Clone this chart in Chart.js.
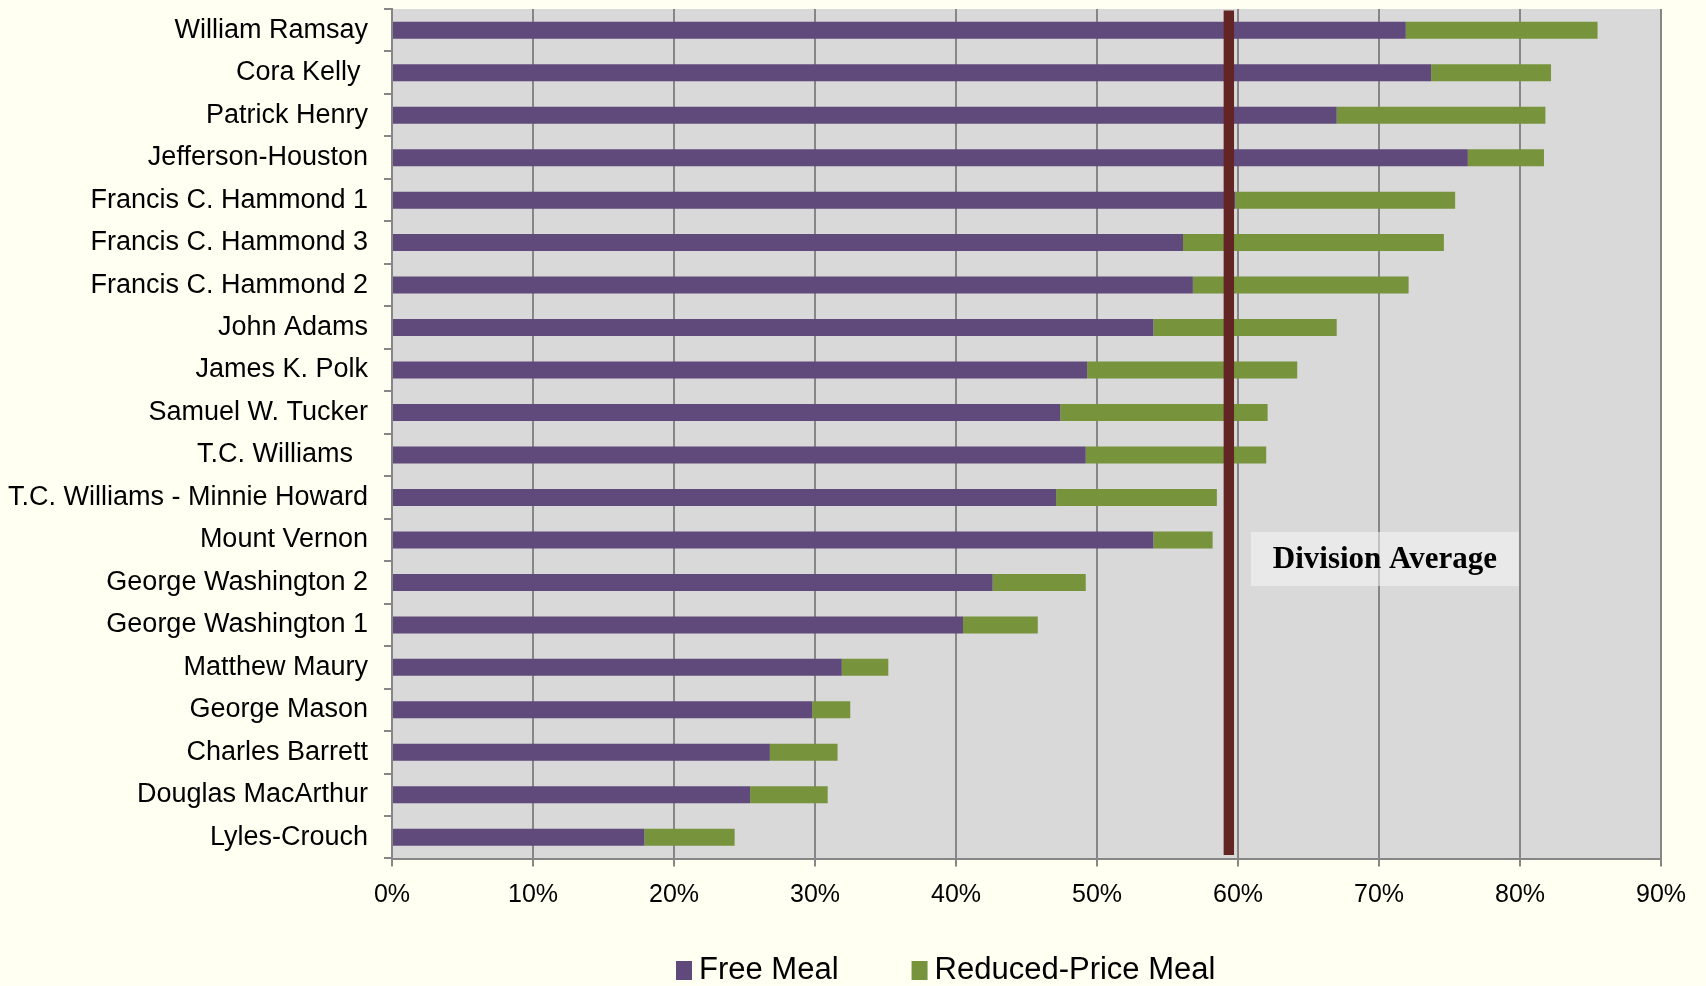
<!DOCTYPE html>
<html>
<head>
<meta charset="utf-8">
<script src="https://cdn.jsdelivr.net/npm/chart.js@4.4.1/dist/chart.umd.min.js"></script>
<style>
  html, body { margin: 0; padding: 0; background: #FFFFF2; }
  #wrap { width: 1706px; height: 986px; }
</style>
</head>
<body>
<div id="wrap"><canvas id="mealChart" width="1706" height="986"></canvas></div>
<script>
// Free / reduced-price meal eligibility by school (percent of students)
const schools = [
  'William Ramsay', 'Cora Kelly ', 'Patrick Henry', 'Jefferson-Houston',
  'Francis C. Hammond 1', 'Francis C. Hammond 3', 'Francis C. Hammond 2',
  'John Adams', 'James K. Polk', 'Samuel W. Tucker', 'T.C. Williams  ',
  'T.C. Williams - Minnie Howard', 'Mount Vernon', 'George Washington 2',
  'George Washington 1', 'Matthew Maury', 'George Mason', 'Charles Barrett',
  'Douglas MacArthur', 'Lyles-Crouch'
];
const freeMeal = [
  71.9, 73.7, 67.0, 76.3, 59.8, 56.1, 56.8, 54.0, 49.3, 47.4,
  49.2, 47.1, 54.0, 42.6, 40.5, 31.9, 29.8, 26.8, 25.4, 17.9
];
const reducedMeal = [
  13.6, 8.5, 14.8, 5.4, 15.6, 18.5, 15.3, 13.0, 14.9, 14.7,
  12.8, 11.4, 4.2, 6.6, 5.3, 3.3, 2.7, 4.8, 5.5, 6.4
];
const xTicks = [0, 10, 20, 30, 40, 50, 60, 70, 80, 90];
const divisionAverage = 59.35;

const PURPLE = '#604A7B';
const GREEN = '#77933C';
const GRID = '#868686';
const FONT = '"Liberation Sans", Arial, sans-serif';

// plot area fill
const plotBackground = {
  id: 'plotBackground',
  beforeDraw(chart) {
    const { ctx, chartArea: a } = chart;
    ctx.save();
    ctx.fillStyle = '#FFFFF2';
    ctx.fillRect(0, 0, chart.width, chart.height);
    ctx.fillStyle = '#D9D9D9';
    ctx.fillRect(a.left, a.top, a.right - a.left, a.bottom - a.top);
    ctx.restore();
  }
};

// vertical marker for the division average + its label
const averageLine = {
  id: 'averageLine',
  afterDatasetsDraw(chart) {
    const { ctx, chartArea: a } = chart;
    const x = chart.scales.x.getPixelForValue(divisionAverage);
    ctx.save();
    ctx.fillStyle = '#632523';
    ctx.fillRect(x - 5.2, a.top + 1.5, 10.4, a.bottom - a.top - 5);

    const boxL = x + 22, boxT = 532, boxW = 268, boxH = 54;
    ctx.fillStyle = 'rgba(245,245,245,0.55)';
    ctx.fillRect(boxL, boxT, boxW, boxH);
    ctx.fillStyle = '#000';
    ctx.font = 'bold 31px "Liberation Serif", "DejaVu Serif", serif';
    ctx.textAlign = 'center';
    ctx.textBaseline = 'middle';
    ctx.fillText('Division Average', boxL + boxW / 2, boxT + boxH / 2 + 1);
    ctx.restore();
  }
};

// legend drawn under the axis, as in the source
const bottomLegend = {
  id: 'bottomLegend',
  afterDraw(chart) {
    const { ctx } = chart;
    ctx.save();
    ctx.font = '31px ' + FONT;
    ctx.textBaseline = 'middle';
    ctx.textAlign = 'left';
    let x = 676;
    const y = 970;
    chart.data.datasets.forEach(ds => {
      ctx.fillStyle = ds.backgroundColor;
      ctx.fillRect(x, y - 9, 16, 19);
      x += 16 + 7;
      ctx.fillStyle = '#000';
      ctx.fillText(ds.label, x, y);
      x += ctx.measureText(ds.label).width + 73;
    });
    ctx.restore();
  }
};

new Chart(document.getElementById('mealChart'), {
  type: 'bar',
  data: {
    labels: schools,
    datasets: [
      { label: 'Free Meal', data: freeMeal, backgroundColor: PURPLE,
        barPercentage: 0.4, categoryPercentage: 1 },
      { label: 'Reduced-Price Meal', data: reducedMeal, backgroundColor: GREEN,
        barPercentage: 0.4, categoryPercentage: 1 }
    ]
  },
  options: {
    indexAxis: 'y',
    responsive: false,
    animation: false,
    devicePixelRatio: 1,
    layout: { padding: { top: 9, right: 45, bottom: 0, left: 0 } },
    plugins: {
      legend: { display: false },
      tooltip: { enabled: false }
    },
    scales: {
      x: {
        stacked: true,
        min: 0,
        max: 90,
        afterBuildTicks: s => { s.ticks = xTicks.map(v => ({ value: v })); },
        afterFit: s => { s.height = 127.5; },
        ticks: {
          callback: v => v + '%',
          color: '#000',
          font: { family: FONT, size: 25 },
          padding: 14,
          maxRotation: 0
        },
        grid: { color: GRID, lineWidth: 2, tickLength: 8 },
        border: { color: GRID, width: 2 }
      },
      y: {
        stacked: true,
        afterFit: s => { s.width = 392; s.paddingTop = 0; s.paddingBottom = 0; },
        ticks: {
          color: '#000',
          font: { family: FONT, size: 27 },
          padding: 16,
          autoSkip: false
        },
        grid: { offset: true, drawOnChartArea: false, color: GRID, lineWidth: 2, tickLength: 8 },
        border: { color: GRID, width: 2 }
      }
    }
  },
  plugins: [plotBackground, averageLine, bottomLegend]
});
</script>
</body>
</html>
